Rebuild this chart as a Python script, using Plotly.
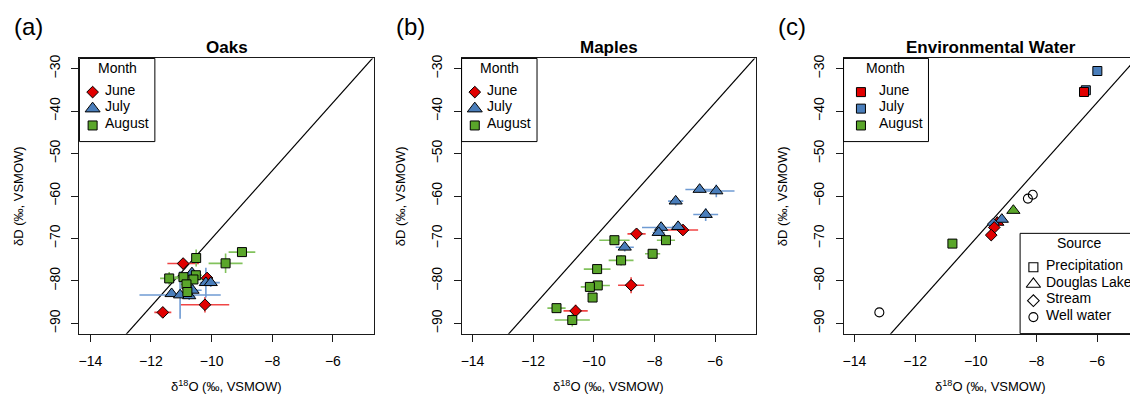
import plotly.graph_objects as go

# ---------------- data ----------------
months = ["June", "July", "August"]
month_fill = {"June": "#E10000", "July": "#4A7EBB", "August": "#5AA62A"}
month_err = {"June": "#F04545", "July": "#6F9BD3", "August": "#82C25C"}
tree_symbol = {"June": "diamond", "July": "triangle-up", "August": "square"}

x_ticks = [-14, -12, -10, -8, -6]
y_ticks = [-90, -80, -70, -60, -50, -40, -30]
panel_titles = ["Oaks", "Maples", "Environmental Water"]
panel_tags = ["(a)", "(b)", "(c)"]
x_label = "δ<sup>18</sup>O (‰, VSMOW)"
y_label = "δD (‰, VSMOW)"

# (a) Oaks
oak_june_x = [-10.94, -10.22, -11.61, -10.15]
oak_june_y = [-75.9, -85.6, -87.4, -79.3]
oak_june_xerr = [0.52, 0.80, 0.28, 0.15]
oak_june_yerr = [0.8, 1.8, 0.8, 0.8]

oak_july_x = [-11.32, -11.04, -10.74, -10.63, -10.65, -10.19, -10.03]
oak_july_y = [-83.0, -83.3, -83.5, -82.2, -78.1, -80.4, -80.4]
oak_july_xerr = [0.15, 1.34, 0.20, 0.30, 0.20, 0.20, 0.30]
oak_july_yerr = [0.8, 5.6, 1.0, 1.5, 1.0, 3.5, 1.0]

oak_aug_x = [-9.00, -9.54, -10.51, -11.40, -10.93, -10.52, -10.60, -10.83, -10.80]
oak_aug_y = [-73.2, -75.85, -74.6, -79.4, -79.1, -78.65, -79.65, -80.8, -82.6]
oak_aug_xerr = [0.44, 0.56, 0.15, 0.30, 0.30, 0.20, 0.30, 0.20, 0.20]
oak_aug_yerr = [0.8, 2.3, 2.0, 1.5, 1.0, 1.0, 1.0, 1.5, 1.0]

# (b) Maples
map_june_x = [-8.59, -7.06, -8.77, -10.60]
map_june_y = [-68.9, -68.0, -81.0, -87.05]
map_june_xerr = [0.30, 0.50, 0.43, 0.40]
map_june_yerr = [0.8, 0.8, 1.9, 1.5]

map_july_x = [-6.51, -5.96, -7.30, -6.31, -7.78, -7.86, -7.22, -8.98]
map_july_y = [-58.45, -58.8, -61.2, -64.35, -67.4, -68.6, -67.2, -72.05]
map_july_xerr = [0.47, 0.60, 0.25, 0.41, 0.63, 0.20, 0.20, 0.30]
map_july_yerr = [0.8, 1.5, 1.0, 1.5, 0.8, 0.8, 0.8, 1.0]

map_aug_x = [-9.32, -7.62, -8.06, -9.10, -9.89, -9.87, -10.13, -10.04, -11.23, -10.71]
map_aug_y = [-70.4, -70.4, -73.6, -75.15, -77.2, -81.05, -81.4, -83.9, -86.4, -89.2]
map_aug_xerr = [0.50, 0.30, 0.25, 0.41, 0.44, 0.40, 0.30, 0.15, 0.30, 0.58]
map_aug_yerr = [0.8, 0.8, 0.8, 1.2, 0.8, 0.8, 0.8, 0.8, 0.8, 1.5]

# (c) Environmental water
sources = ["Precipitation", "Douglas Lake", "Stream", "Well water"]
source_symbol = {"Precipitation": "square", "Douglas Lake": "triangle-up",
                 "Stream": "diamond", "Well water": "circle"}

env_precip_month = ["July", "July", "June", "August"]
env_precip_x = [-5.99, -6.37, -6.43, -10.77]
env_precip_y = [-30.56, -35.1, -35.5, -71.2]

env_lake_month = ["June", "July", "August"]
env_lake_x = [-9.29, -9.14, -8.76]
env_lake_y = [-66.2, -65.5, -63.4]

env_stream_month = ["July", "June", "June"]
env_stream_x = [-9.42, -9.39, -9.49]
env_stream_y = [-66.6, -67.4, -69.2]

env_well_x = [-8.12, -8.28, -13.18]
env_well_y = [-59.7, -60.6, -87.4]

# Global meteoric water line
gmwl_slope = 8.0
gmwl_intercept = 10.0

# ---------------- layout constants ----------------
W, H = 1130, 395
FONT = "Liberation Sans, Arial, Helvetica, sans-serif"
BOX_L = [78.5, 461.0, 843.3]
BOX_W = 295.0
BOX_T, BOX_B = 55.0, 333.0
X_LO, X_HI = -14.36, -4.64
Y_LO, Y_HI = -92.4, -27.6
PPU = BOX_W / (X_HI - X_LO)
TXT_DY = -2.5  # visual centring correction for annotations

SIZE = {"diamond": 9, "triangle-up": 11.5, "square": 9, "circle": 9}

fig = go.Figure()

tree_panels = [
    {"June": (oak_june_x, oak_june_y, oak_june_xerr, oak_june_yerr),
     "July": (oak_july_x, oak_july_y, oak_july_xerr, oak_july_yerr),
     "August": (oak_aug_x, oak_aug_y, oak_aug_xerr, oak_aug_yerr)},
    {"June": (map_june_x, map_june_y, map_june_xerr, map_june_yerr),
     "July": (map_july_x, map_july_y, map_july_xerr, map_july_yerr),
     "August": (map_aug_x, map_aug_y, map_aug_xerr, map_aug_yerr)},
]

axis_ids = [("x", "y"), ("x2", "y2"), ("x3", "y3")]

# GMWL lines
for i in range(3):
    xa, ya = axis_ids[i]
    gx = [-16.0, -3.0]
    gy = [gmwl_slope * v + gmwl_intercept for v in gx]
    fig.add_trace(go.Scatter(x=gx, y=gy, mode="lines", xaxis=xa, yaxis=ya,
                             line=dict(color="black", width=1.2),
                             hoverinfo="skip", showlegend=False))

for i, panel in enumerate(tree_panels):
    xa, ya = axis_ids[i]
    # error bars first
    for m in months:
        px, py, ex, ey = panel[m]
        fig.add_trace(go.Scatter(
            x=px, y=py, mode="markers", xaxis=xa, yaxis=ya,
            marker=dict(size=1, opacity=0),
            error_x=dict(type="data", array=ex, color=month_err[m], thickness=1.6, width=0),
            error_y=dict(type="data", array=ey, color=month_err[m], thickness=1.6, width=0),
            hoverinfo="skip", showlegend=False))
    for m in months:
        px, py, ex, ey = panel[m]
        sym = tree_symbol[m]
        fig.add_trace(go.Scatter(
            x=px, y=py, mode="markers", xaxis=xa, yaxis=ya, name=m,
            marker=dict(symbol=sym, size=SIZE[sym], color=month_fill[m],
                        line=dict(color="black", width=1)),
            showlegend=False))

env = [
    ("Precipitation", env_precip_x, env_precip_y, env_precip_month),
    ("Douglas Lake", env_lake_x, env_lake_y, env_lake_month),
    ("Stream", env_stream_x, env_stream_y, env_stream_month),
]
for src, ex_, ey_, em in env:
    sym = source_symbol[src]
    fig.add_trace(go.Scatter(
        x=ex_, y=ey_, mode="markers", xaxis="x3", yaxis="y3", name=src,
        marker=dict(symbol=sym, size=SIZE[sym], color=[month_fill[m] for m in em],
                    line=dict(color="black", width=1)),
        showlegend=False))
fig.add_trace(go.Scatter(
    x=env_well_x, y=env_well_y, mode="markers", xaxis="x3", yaxis="y3", name="Well water",
    marker=dict(symbol="circle-open", size=SIZE["circle"], color="black",
                line=dict(color="black", width=1.1)),
    showlegend=False))

# ---------------- manual legends (pixel overlay axis x4/y4) ----------------
annotations = []
shapes = []

def ann(x, y, text, size=14, xanchor="left", yanchor="middle", angle=0, dy=TXT_DY):
    annotations.append(dict(x=x, y=y + dy, xref="x4", yref="y4", text=text, showarrow=False,
                            xanchor=xanchor, yanchor=yanchor, textangle=angle,
                            font=dict(family=FONT, size=size, color="black")))

entry_y = [89.0, 105.7, 122.7]
for i in range(3):
    left = BOX_L[i]
    if i < 2:
        bw, mk_dx, tx_dx, tt_dx = 75.5, 13.2, 23.8, 38.2
    else:
        bw, mk_dx, tx_dx, tt_dx = 85.0, 17.4, 33.8, 42.4
    shapes.append(dict(type="rect", xref="x4", yref="y4", x0=left, x1=left + bw,
                       y0=BOX_T, y1=139.0, line=dict(color="black", width=1), layer="above"))
    ann(left + tt_dx, 67.3, "Month", xanchor="center")
    for j, m in enumerate(months):
        sym = tree_symbol[m] if i < 2 else "square"
        fig.add_trace(go.Scatter(
            x=[left + mk_dx], y=[entry_y[j]], mode="markers", xaxis="x4", yaxis="y4",
            marker=dict(symbol=sym, size=SIZE[sym] + (1.5 if sym == "triangle-up" else 0),
                        color=month_fill[m], line=dict(color="black", width=1)),
            hoverinfo="skip", showlegend=False))
        ann(left + tx_dx, entry_y[j], m)

# Source legend
src_left, src_top = 1020.0, 231.7
shapes.append(dict(type="rect", xref="x4", yref="y4", x0=src_left, x1=W + 20,
                   y0=src_top, y1=BOX_B, line=dict(color="black", width=1), layer="above"))
ann(1079.0, 244.3, "Source", xanchor="center")
src_y = [266.0, 283.0, 299.7, 316.3]
for j, s in enumerate(sources):
    sym = source_symbol[s] + "-open"
    fig.add_trace(go.Scatter(
        x=[src_left + 13.3], y=[src_y[j]], mode="markers", xaxis="x4", yaxis="y4",
        marker=dict(symbol=sym, size=SIZE[source_symbol[s]] + (1 if s == "Douglas Lake" else 0),
                    color="black", line=dict(color="black", width=1.1)),
        hoverinfo="skip", showlegend=False))
    ann(src_left + 24.0, src_y[j], s)

# titles, tags, axis labels
for i in range(3):
    left = BOX_L[i]
    cx = left + BOX_W / 2
    ann(cx, 46.7, "<b>" + panel_titles[i] + "</b>", size=17, xanchor="center")
    ann(left - 67.5, 25.0, panel_tags[i], size=24, xanchor="left")
    annotations.append(dict(x=left - 61.5, y=(BOX_T + BOX_B) / 2, xref="x4", yref="y4",
                            text=y_label, showarrow=False, xanchor="center", yanchor="middle",
                            textangle=-90, font=dict(family=FONT, size=13, color="black")))
    ann(cx, 388.5, x_label, size=13, xanchor="center")

# ---------------- axes ----------------
layout = dict(
    width=W, height=H, margin=dict(l=0, r=0, t=0, b=0),
    paper_bgcolor="white", plot_bgcolor="rgba(0,0,0,0)",
    font=dict(family=FONT, size=14, color="black"),
    showlegend=False, annotations=annotations, shapes=shapes,
)
ydom = [1 - BOX_B / H, 1 - BOX_T / H]
for i in range(3):
    sfx = "" if i == 0 else str(i + 1)
    left = BOX_L[i]
    right = min(left + BOX_W, W)
    x_hi = X_LO + (right - left) / PPU
    common = dict(showgrid=False, zeroline=False, showline=True, linecolor="#1a1a1a",
                  linewidth=1, ticks="outside", ticklen=7, tickwidth=1, tickcolor="#1a1a1a",
                  tickfont=dict(family=FONT, size=14, color="black"))
    layout["xaxis" + sfx] = dict(domain=[left / W, right / W], range=[X_LO, x_hi],
                                 tickvals=x_ticks, anchor="y" + sfx, mirror=True,
                                 ticklabelstandoff=8, **common)
    layout["yaxis" + sfx] = dict(domain=ydom, range=[Y_LO, Y_HI], tickvals=y_ticks,
                                 anchor="x" + sfx, mirror=(i < 2), tickangle=-90,
                                 ticklabelstandoff=6, **common)
layout["xaxis4"] = dict(domain=[0, 1], range=[0, W], visible=False, anchor="y4", fixedrange=True)
layout["yaxis4"] = dict(domain=[0, 1], range=[H, 0], visible=False, anchor="x4", fixedrange=True)

fig.update_layout(**layout)
fig.write_html("out.html")
